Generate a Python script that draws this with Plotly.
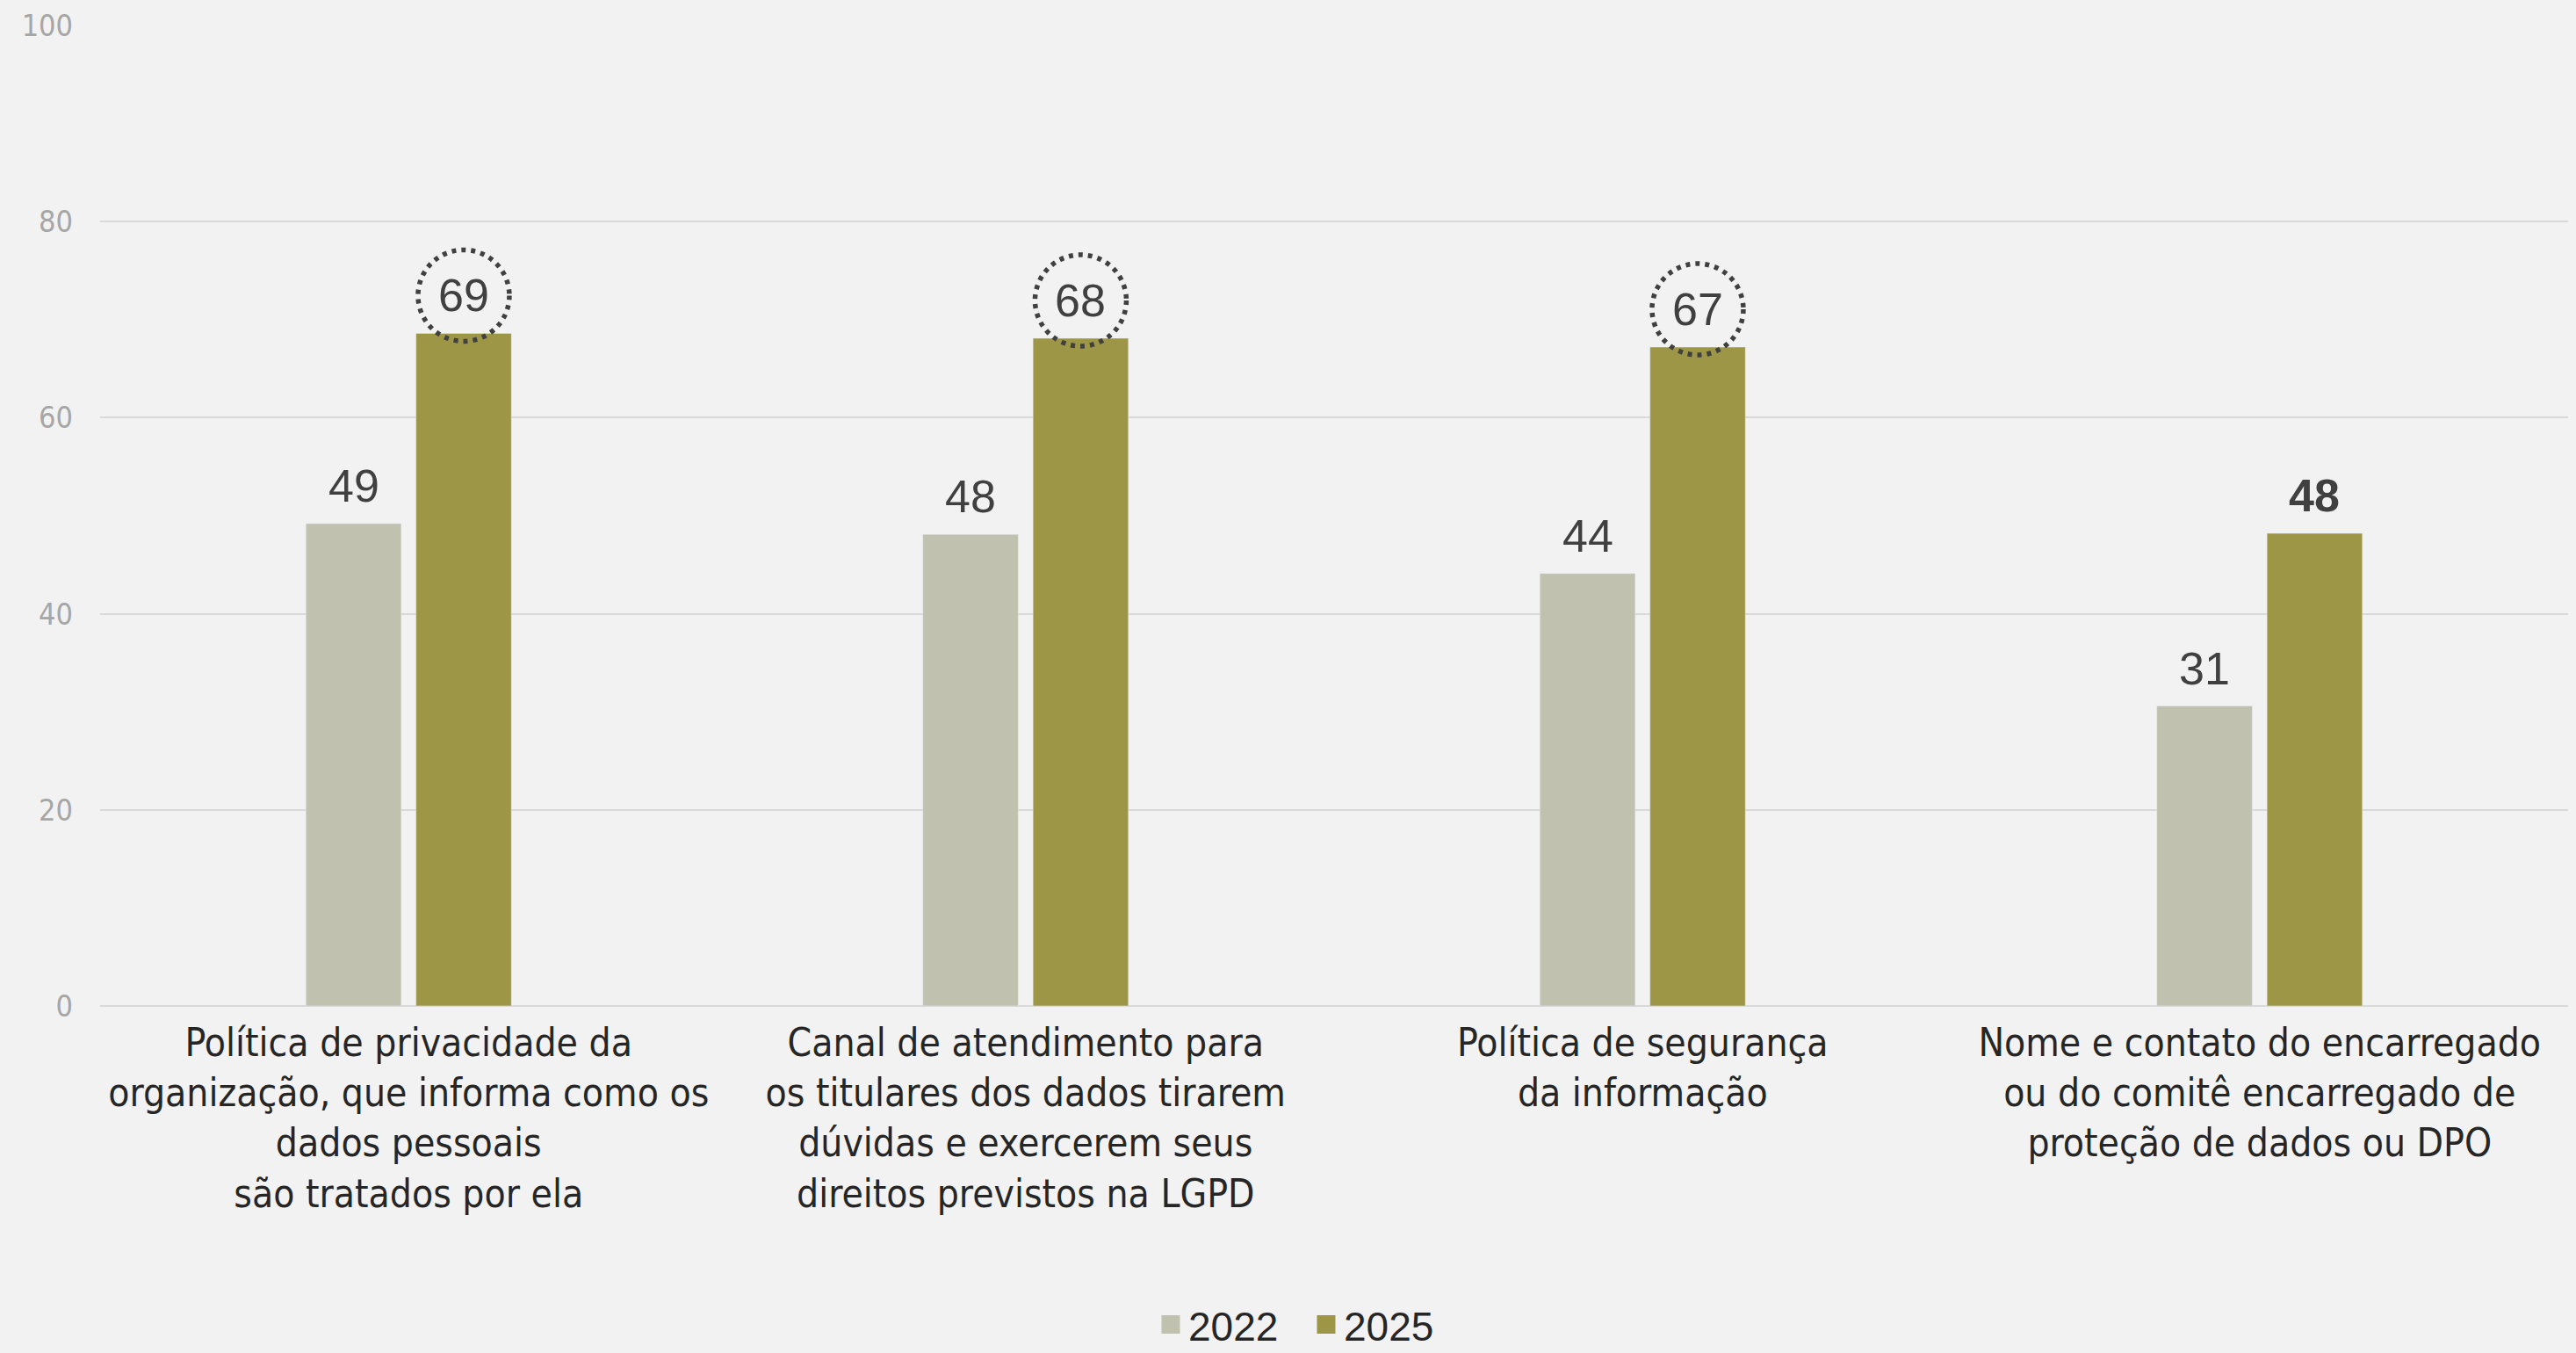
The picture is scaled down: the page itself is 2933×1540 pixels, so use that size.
import plotly.graph_objects as go

# =============================================================================
# Data
# =============================================================================
categories = [
    "Política de privacidade da<br>organização, que informa como os<br>dados pessoais<br>são tratados por ela",
    "Canal de atendimento para<br>os titulares dos dados tirarem<br>dúvidas e exercerem seus<br>direitos previstos na LGPD",
    "Política de segurança<br>da informação",
    "Nome e contato do encarregado<br>ou do comitê encarregado de<br>proteção de dados ou DPO",
]
years = ["2022", "2025"]
values_2022 = [49.2, 48.1, 44.1, 30.6]
values_2025 = [68.6, 68.1, 67.2, 48.2]
labels_2022 = ["49", "48", "44", "31"]
labels_2025 = ["69", "68", "67", "48"]
circled_2025 = [True, True, True, False]   # dotted circle round the label
bold_2025 = [False, False, False, True]
y_ticks = [0, 20, 40, 60, 80, 100]

# =============================================================================
# Style
# =============================================================================
c_2022 = "#C0C1AE"
c_2025 = "#9E9647"
bg = "#F2F2F2"
grid = "#D9D9D9"
txt = "#404040"
narrow = "Liberation Sans Narrow, DejaVu Sans Condensed, Arial Narrow, sans-serif"
plain = "Liberation Sans, Arial, sans-serif"

W, H = 2933, 1540
m_l, m_r, m_t, m_b = 114, 9, 26, 395
bargap = 0.643
groupgap = 0.134
cat_w = (W - m_l - m_r) / len(categories)
shift = (1 - bargap) * cat_w / 4      # bar centre offset from category centre, px
label_up = 43                         # label centre above bar top, px
radius = 52

fig = go.Figure()
fig.add_trace(go.Bar(x=categories, y=values_2022, name=years[0],
                     marker=dict(color=c_2022), showlegend=False))
fig.add_trace(go.Bar(x=categories, y=values_2025, name=years[1],
                     marker=dict(color=c_2025), showlegend=False))

# legend entries with bigger square swatches
for name, col in zip(years, [c_2022, c_2025]):
    fig.add_trace(go.Scatter(x=[None], y=[None], mode="markers", name=name,
                             marker=dict(symbol="square", size=16, color=col,
                                         line=dict(color=col, width=5))))

# value labels
for cat, v, lab in zip(categories, values_2022, labels_2022):
    fig.add_annotation(x=cat, y=v, text=lab, showarrow=False, xshift=-shift,
                       yshift=label_up, yanchor="middle",
                       font=dict(family=plain, size=52, color=txt))
for cat, v, lab, circ, bold in zip(categories, values_2025, labels_2025,
                                   circled_2025, bold_2025):
    fig.add_annotation(x=cat, y=v, text=f"<b>{lab}</b>" if bold else lab,
                       showarrow=False, xshift=shift, yshift=label_up,
                       yanchor="middle",
                       font=dict(family=plain, size=52, color=txt))
    if circ:
        fig.add_shape(type="circle", xref="x", yref="y",
                      xsizemode="pixel", ysizemode="pixel",
                      xanchor=cat, yanchor=v,
                      x0=shift - radius, x1=shift + radius,
                      y0=label_up - radius, y1=label_up + radius,
                      line=dict(color=txt, width=5.5, dash="5px,6px"))

fig.update_layout(
    width=W, height=H,
    paper_bgcolor=bg, plot_bgcolor=bg,
    margin=dict(l=m_l, r=m_r, t=m_t, b=m_b),
    barmode="group", bargap=bargap, bargroupgap=groupgap,
    legend=dict(orientation="h", xref="container", yref="container",
                x=0.508, xanchor="center", y=0.021, yanchor="middle",
                font=dict(family=plain, size=46, color="#262626"),
                itemwidth=30, entrywidth=132),
)
fig.update_xaxes(type="category", showgrid=False, showline=False, ticks="",
                 ticklabelstandoff=12,
                 tickfont=dict(family=narrow, size=44, color="#262626"))
fig.update_yaxes(range=[0, 100], tickvals=y_ticks, showgrid=True,
                 gridcolor=grid, gridwidth=2, zeroline=True,
                 zerolinecolor=grid, zerolinewidth=2, showline=False,
                 ticklabelstandoff=30,
                 tickfont=dict(family=narrow, size=34, color="#A6A6A6"))

fig.write_html("out.html", config={"displayModeBar": False},
               post_script="document.body.style.margin='0';")
